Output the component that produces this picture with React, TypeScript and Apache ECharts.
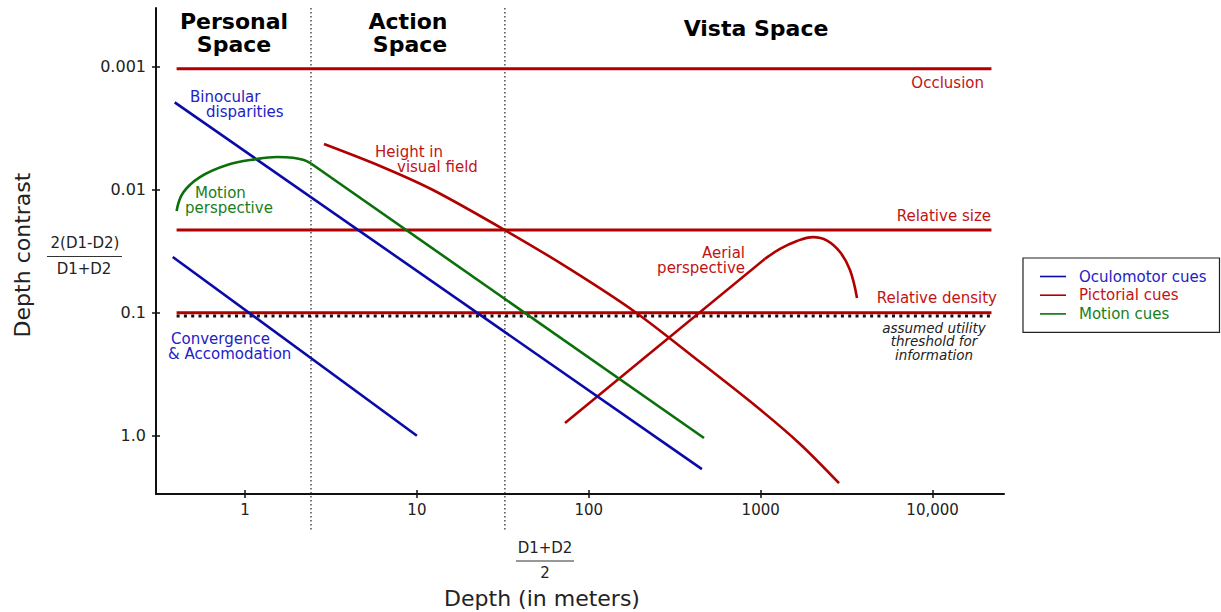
import React, { useEffect, useRef } from 'react';
import * as echarts from 'echarts';

// ---------- axes ----------
const xTickValues = [1, 10, 100, 1000, 10000];
const xTickLabels = ['1', '10', '100', '1000', '10,000'];
const yTickValues = [0.001, 0.01, 0.1, 1];
const yTickLabels = ['0.001', '0.01', '0.1', '1.0'];
const xRange = [0.3035, 26030];
const yRange = [0.000333, 2.98];

// ---------- space boundaries (depth, m) ----------
const spaceBoundaries = [2.42, 32.5];
const boundarySpan = [0.000333, 5.84];

// ---------- constant pictorial cues ----------
const flatCueSpan = [0.4, 22000];
const occlusionLevel = 0.00104;
const relativeSizeLevel = 0.0213;
const relativeDensityLevel = 0.1;
const thresholdLevel = 0.1064;

// ---------- oculomotor cues ----------
const binocular = [[0.39, 0.00195], [455, 1.87]];
const convergence = [[0.38, 0.0352], [10, 1.0]];

// ---------- motion cues ----------
const motionCurve = [[0.4, 0.0149], [0.436, 0.0106], [0.547, 0.0079], [0.786, 0.0063], [1.17, 0.00563], [1.54, 0.00542], [1.9, 0.0055], [2.2, 0.00574], [2.42, 0.00612]];
const motionLine = [[2.42, 0.00612], [468, 1.045]];

// ---------- pictorial cues ----------
const heightInField = [[2.88, 0.00425], [6.1, 0.00641], [12.4, 0.01005], [32.5, 0.0213], [77.7, 0.0442], [186, 0.0986], [444, 0.252], [952, 0.585], [1693, 1.167], [2855, 2.43]];
const aerialLine = [[72.7, 0.789], [1059, 0.0365]];
const aerialCurve = [[1059, 0.0365], [1295, 0.0303], [1626, 0.0261], [2015, 0.0243], [2431, 0.0259], [2893, 0.0321], [3307, 0.045], [3633, 0.0758]];

const BLUE = '#0a0aa8';
const RED = '#b00000';
const GREEN = '#0a700a';
const BLUE_T = '#2222c4';
const RED_T = '#c01414';
const GREEN_T = '#1a7e1a';
const FONT = 'DejaVu Sans';

function fmt(values: number[], labels: string[]) {
  return (v: number) => {
    const i = values.findIndex((t) => Math.abs(t - v) / t < 1e-6);
    return i >= 0 ? labels[i] : '';
  };
}

function lineSeries(name: string, data: number[][], color: string, extra: any = {}) {
  return {
    type: 'line',
    name,
    data,
    color,
    symbol: 'none',
    showSymbol: false,
    silent: true,
    lineStyle: { color, width: 2.6 },
    ...extra,
  };
}

function flat(level: number) {
  return [[flatCueSpan[0], level], [flatCueSpan[1], level]];
}

function txt(text: string, x: number, y: number, fill: string, opts: any = {}) {
  return {
    type: 'text',
    x,
    y,
    silent: true,
    rotation: opts.rotation || 0,
    style: {
      text,
      fill,
      fontFamily: FONT,
      fontSize: opts.size || 15,
      fontWeight: opts.weight || 'normal',
      fontStyle: opts.style || 'normal',
      align: opts.align || 'left',
      verticalAlign: 'middle',
    },
  };
}

function hline(x1: number, x2: number, y: number) {
  return { type: 'line', silent: true, shape: { x1, y1: y, x2, y2: y }, style: { stroke: '#333', lineWidth: 1.2 } };
}

export default function App() {
  const ref = useRef<HTMLDivElement>(null);
  useEffect(() => {
    const chart = echarts.init(ref.current!, null, { renderer: 'svg' });
    const xBase = {
      type: 'log',
      logBase: 10,
      min: xRange[0],
      max: xRange[1],
      position: 'bottom',
      splitLine: { show: false },
      minorTick: { show: false },
    };
    const yBase = {
      type: 'log',
      logBase: 10,
      min: yRange[0],
      max: yRange[1],
      inverse: true,
      position: 'left',
      splitLine: { show: false },
      minorTick: { show: false },
    };
    const option: any = {
      animation: false,
      backgroundColor: '#fff',
      grid: { left: 156, top: 8, right: 217, bottom: 118, containLabel: false, outerBoundsMode: 'none' },
      xAxis: [
        {
          ...xBase,
          axisLine: { show: true, lineStyle: { color: '#111', width: 2 } },
          axisTick: { show: true, customValues: xTickValues, length: 4, lineStyle: { color: '#111', width: 1.5 } },
          axisLabel: { customValues: xTickValues, formatter: fmt(xTickValues, xTickLabels), fontFamily: FONT, fontSize: 15, color: '#222', margin: 8 },
        },
        {
          ...xBase,
          axisLine: { show: false },
          axisTick: { show: true, inside: true, customValues: xTickValues, length: 4, lineStyle: { color: '#111', width: 1.5 } },
          axisLabel: { show: false },
        },
      ],
      yAxis: [
        {
          ...yBase,
          axisLine: { show: true, lineStyle: { color: '#111', width: 2 } },
          axisTick: { show: true, customValues: yTickValues, length: 4, lineStyle: { color: '#111', width: 1.5 } },
          axisLabel: { customValues: yTickValues, formatter: fmt(yTickValues, yTickLabels), fontFamily: FONT, fontSize: 16, color: '#222', margin: 10 },
        },
        {
          ...yBase,
          axisLine: { show: false },
          axisTick: { show: true, inside: true, customValues: yTickValues, length: 4, lineStyle: { color: '#111', width: 1.5 } },
          axisLabel: { show: false },
        },
      ],
      legend: {
        orient: 'vertical',
        left: 1023,
        top: 258,
        selectedMode: false,
        icon: 'rect',
        itemWidth: 26,
        itemHeight: 1.6,
        itemGap: 3.7,
        padding: [11, 13, 11, 17],
        borderColor: '#222',
        borderWidth: 1.2,
        backgroundColor: '#fff',
        textStyle: { fontFamily: FONT, fontSize: 15, padding: [0, 0, 0, 8] },
        data: [
          { name: 'Oculomotor cues', textStyle: { color: BLUE_T } },
          { name: 'Pictorial cues', textStyle: { color: RED_T } },
          { name: 'Motion cues', textStyle: { color: GREEN_T } },
        ],
      },
      series: [
        ...spaceBoundaries.map((b) =>
          lineSeries('boundary', [[b, boundarySpan[0]], [b, boundarySpan[1]]], '#333', {
            clip: false,
            lineStyle: { color: '#333', width: 1.3, type: [1.5, 2.5] },
            z: 1,
          })
        ),
        lineSeries('threshold', flat(thresholdLevel), '#111', { lineStyle: { color: '#111', width: 3, type: [3, 4.3] } }),
        lineSeries('Pictorial cues', flat(occlusionLevel), RED, { lineStyle: { color: RED, width: 3 } }),
        lineSeries('Pictorial cues', flat(relativeSizeLevel), RED, { lineStyle: { color: RED, width: 3 } }),
        lineSeries('Pictorial cues', flat(relativeDensityLevel), RED, { lineStyle: { color: RED, width: 3 } }),
        lineSeries('Pictorial cues', heightInField, RED, { smooth: 0.3 }),
        lineSeries('Pictorial cues', aerialLine, RED),
        lineSeries('Pictorial cues', aerialCurve, RED, { smooth: 0.4 }),
        lineSeries('Oculomotor cues', binocular, BLUE),
        lineSeries('Oculomotor cues', convergence, BLUE),
        lineSeries('Motion cues', motionCurve, GREEN, { smooth: 0.4 }),
        lineSeries('Motion cues', motionLine, GREEN),
      ],
      graphic: [
        txt('Personal', 234, 21, '#000', { size: 22, weight: 'bold', align: 'center' }),
        txt('Space', 234, 44, '#000', { size: 22, weight: 'bold', align: 'center' }),
        txt('Action', 408, 21, '#000', { size: 22, weight: 'bold', align: 'center' }),
        txt('Space', 410, 44, '#000', { size: 22, weight: 'bold', align: 'center' }),
        txt('Vista Space', 756, 28, '#000', { size: 22, weight: 'bold', align: 'center' }),

        txt('Binocular', 190, 96.5, BLUE_T),
        txt('disparities', 206, 112, BLUE_T),
        txt('Convergence', 171, 338.5, BLUE_T),
        txt('& Accomodation', 168, 354, BLUE_T),
        txt('Motion', 195, 192.5, GREEN_T),
        txt('perspective', 185, 208, GREEN_T),
        txt('Height in', 375, 151.5, RED_T),
        txt('visual field', 397, 167, RED_T),
        txt('Occlusion', 984, 83, RED_T, { align: 'right' }),
        txt('Relative size', 991, 216, RED_T, { align: 'right' }),
        txt('Relative density', 997, 298, RED_T, { align: 'right' }),
        txt('Aerial', 745, 252.5, RED_T, { align: 'right' }),
        txt('perspective', 745, 268, RED_T, { align: 'right' }),
        txt('assumed utility', 934, 327.5, '#222', { size: 13.5, style: 'italic', align: 'center' }),
        txt('threshold for', 934, 341, '#222', { size: 13.5, style: 'italic', align: 'center' }),
        txt('information', 934, 354.5, '#222', { size: 13.5, style: 'italic', align: 'center' }),

        txt('Depth contrast', 22, 255, '#222', { size: 22, align: 'center', rotation: Math.PI / 2 }),
        txt('Depth (in meters)', 542, 598, '#222', { size: 22, align: 'center' }),
        txt('2(D1-D2)', 85, 243, '#222', { size: 15, align: 'center' }),
        hline(47, 122, 256.5),
        txt('D1+D2', 84, 269, '#222', { size: 15, align: 'center' }),
        txt('D1+D2', 545, 548, '#222', { size: 15, align: 'center' }),
        hline(516, 574, 561),
        txt('2', 545, 573, '#222', { size: 15, align: 'center' }),
      ],
    };
    chart.setOption(option);
    return () => chart.dispose();
  }, []);
  return (
    <div
      ref={ref}
      style={{ position: 'fixed', left: 0, top: 0, width: 1221, height: 612, background: '#fff' }}
    />
  );
}
